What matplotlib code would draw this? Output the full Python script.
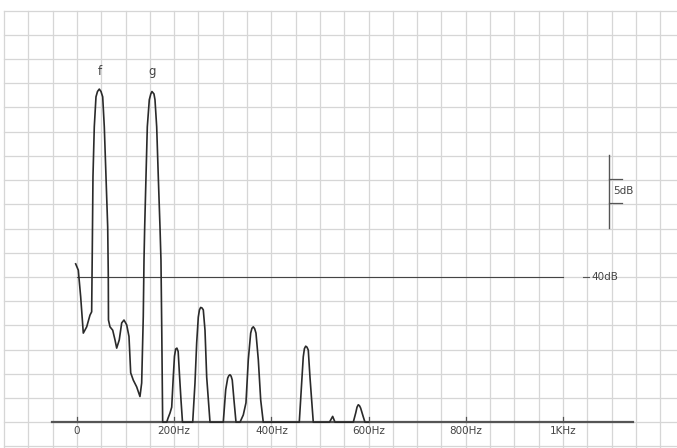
import matplotlib
matplotlib.use("Agg")
import matplotlib.pyplot as plt
import numpy as np

# spectrum trace (Hz, dB)
freq_hz = [-2.7, 2.7, 7.6, 13.0, 20.0, 26.7, 30.2, 31.5, 32.9, 35.6, 39.1, 42.2, 45.9,
           49.4, 52.9, 56.2, 59.7, 63.2, 64.4, 64.8, 67.9, 73.5, 78.2, 81.7, 87.0, 92.0,
           96.7, 102.3, 107.0, 110.5, 115.8, 122.8, 129.6, 133.1, 136.4, 137.9,
           139.3, 142.0, 144.7, 148.8, 151.9, 154.3, 158.4, 160.5, 164.0, 167.3, 170.8,
           172.8, 174.5, 176.3,
           184.6, 187.2, 191.4, 194.9, 198.1, 200.6, 203.0, 205.6, 208.2, 210.9, 214.0, 217.1,
           238.1, 242.8, 246.3, 249.6, 252.0, 254.5, 257.2, 259.9, 263.4, 266.9, 273.7,
           301.0, 306.0, 310.1, 312.4, 314.8, 317.2, 319.5, 323.0, 327.2,
           335.4, 342.2, 347.7, 352.5, 357.4, 360.0, 362.8, 365.6, 368.3, 373.1, 378.0, 383.3,
           457.4, 462.3, 465.6, 468.0, 470.6, 473.2, 475.9, 479.4, 486.2,
           519.5, 526.1, 530.9,
           568.5, 573.5, 576.2, 578.8, 581.3, 583.7, 589.1, 592.6, 600.0]
level_db = [42.7, 41.4, 35.9, 28.4, 29.7, 32.1, 32.8, 45.6, 60.7, 71.0, 77.2, 78.3, 78.8,
            78.3, 77.2, 71.0, 60.7, 50.3, 40.4, 31.1, 29.7, 29.0, 27.0, 25.3, 27.0, 30.5,
            31.1, 30.1, 27.7, 20.2, 18.7, 17.3, 15.3, 18.1, 31.8, 43.5,
            50.3, 60.7, 71.0, 76.6, 77.8, 78.3, 77.8, 76.6, 71.0, 60.7, 50.3,
            43.5, 28.4, 10.0,
            10.0, 10.8, 11.9, 13.1, 19.3, 23.6, 25.1, 25.3, 24.6, 19.8, 14.6, 10.0,
            10.0, 18.1, 26.4, 31.7, 33.2, 33.7, 33.6, 33.2, 29.0, 19.3, 10.0,
            10.0, 16.7, 19.1, 19.6, 19.8, 19.5, 18.7, 14.6, 10.0,
            10.0, 11.5, 14.0, 22.9, 28.4, 29.4, 29.7, 29.3, 28.4, 22.9, 14.6, 10.0,
            10.0, 18.1, 23.5, 25.2, 25.7, 25.5, 24.9, 19.3, 10.0,
            10.0, 11.2, 10.0,
            10.0, 11.9, 13.1, 13.6, 13.4, 12.9, 11.1, 10.0, 10.0]

tick_hz = [0, 200, 400, 600, 800, 1000]
tick_labels = ["0", "200Hz", "400Hz", "600Hz", "800Hz", "1KHz"]
peak_names = ["f", "g"]
peak_hz = [47.3, 154.3]
peak_db = [82.4, 82.4]

base_db = 10.0
ref_db = 40.0

ink = "#2a2a2a"
paper = "#d6d6d6"
fig = plt.figure(figsize=(6.77, 4.48), dpi=100)
ax = fig.add_axes([0, 0, 1, 1])
ax.set_xlim(-158.4, 1234.6)
ax.set_ylim(4.67, 97.2)
ax.axis("off")

# graph paper
for gx in np.arange(-150, 1250, 50):
    ax.plot([gx, gx], [0, 95], color=paper, lw=0.9, zorder=0)
for gy in np.arange(5, 100, 5):
    ax.plot([-150, 1300], [gy, gy], color=paper, lw=0.9, zorder=0)

# frequency axis
ax.plot([-51, 1144], [base_db, base_db], color="#555555", lw=1.6, zorder=2)
for t, lab in zip(tick_hz, tick_labels):
    ax.plot([t, t], [base_db, base_db + 1.0], color="#555555", lw=0.9, zorder=2)
    ax.text(t, base_db - 0.8, lab, ha="center", va="top", fontsize=7.5,
            color="#444444")

# 40 dB reference line
ax.plot([0, 1000], [ref_db, ref_db], color="#444444", lw=0.8, zorder=2)
ax.plot([1041, 1053], [ref_db, ref_db], color="#555555", lw=0.8, zorder=2)
ax.text(1058, ref_db, "40dB", ha="left", va="center", fontsize=7.5, color="#444444")

# 5 dB scale bar
ax.plot([1094.7, 1094.7], [50.1, 65.2], color="#555555", lw=1.0, zorder=2)
for sy in [55.3, 60.2]:
    ax.plot([1094.7, 1121.4], [sy, sy], color="#555555", lw=0.9, zorder=2)
ax.text(1103, 57.7, "5dB", ha="left", va="center", fontsize=7.5, color="#444444")

# spectrum trace
ax.plot(freq_hz, level_db, color=ink, lw=1.2, zorder=3)
for name, px, py in zip(peak_names, peak_hz, peak_db):
    ax.text(px, py, name, ha="center", va="center", fontsize=8.5, color="#444444")

fig.savefig("out.png", dpi=100, facecolor="white")
